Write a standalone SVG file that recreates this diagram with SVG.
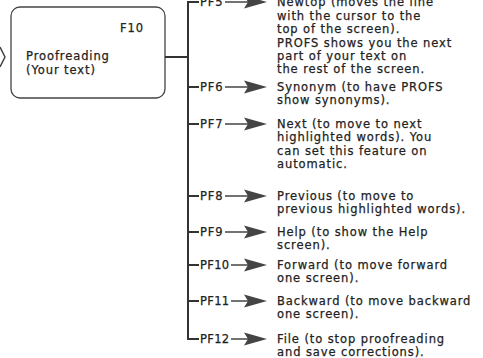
<svg xmlns="http://www.w3.org/2000/svg" width="483" height="358" viewBox="0 0 483 358">
<defs>
<style>
text{font-family:"DejaVu Sans","Liberation Sans",sans-serif;font-size:11.5px;letter-spacing:0.9px;fill:#222;stroke:#222;stroke-width:0.25px;}
.pf{letter-spacing:0.3px;}
.ln{stroke:#333;stroke-width:2;fill:none;}
.thin{stroke:#444;stroke-width:1.5;fill:none;}
.ah{fill:#444;}
</style>
<polygon id="head" class="ah" points="244,-6.5 267,0 244,6.5 248,0"/>
</defs>
<rect width="483" height="358" fill="#fff"/>
<g id="chevron"><polyline class="thin" points="0,47 5,57 0,67"/></g>
<g id="proofreading">
<rect x="11" y="7" width="154" height="91" rx="9" fill="#fff" stroke="#444" stroke-width="1.3"/>
<text x="120" y="32">F10</text>
<text x="26" y="60">Proofreading</text>
<text x="26" y="73.5">(Your text)</text>
</g>
<g id="connectors">
<line class="ln" x1="165" y1="57" x2="188" y2="57"/>
<polyline class="ln" points="199,2 188,2 188,339 199,339"/>
<line class="ln" x1="188" y1="87" x2="199" y2="87"/>
<line class="ln" x1="188" y1="124" x2="199" y2="124"/>
<line class="ln" x1="188" y1="196" x2="199" y2="196"/>
<line class="ln" x1="188" y1="232" x2="199" y2="232"/>
<line class="ln" x1="188" y1="265" x2="199" y2="265"/>
<line class="ln" x1="188" y1="301" x2="199" y2="301"/>
<line class="thin" x1="225" y1="2" x2="250" y2="2"/>
<line class="thin" x1="225" y1="87" x2="250" y2="87"/>
<line class="thin" x1="225" y1="124" x2="250" y2="124"/>
<line class="thin" x1="225" y1="196" x2="250" y2="196"/>
<line class="thin" x1="225" y1="232" x2="250" y2="232"/>
<line class="thin" x1="231" y1="265" x2="250" y2="265"/>
<line class="thin" x1="231" y1="301" x2="250" y2="301"/>
<line class="thin" x1="231" y1="339" x2="250" y2="339"/>
<use href="#head" y="2"/>
<use href="#head" y="87"/>
<use href="#head" y="124"/>
<use href="#head" y="196"/>
<use href="#head" y="232"/>
<use href="#head" y="265"/>
<use href="#head" y="301"/>
<use href="#head" y="339"/>
</g>
<g id="pf5"><text x="200" y="6">PF5</text>
<text x="277" y="6">Newtop (moves the line</text>
<text x="277" y="20">with the cursor to the</text>
<text x="277" y="33">top of the screen).</text>
<text x="277" y="47">PROFS shows you the next</text>
<text x="277" y="60">part of your text on</text>
<text x="277" y="73">the rest of the screen.</text></g>
<g id="pf6"><text x="200" y="91">PF6</text>
<text x="277" y="91">Synonym (to have PROFS</text>
<text x="277" y="104">show synonyms).</text></g>
<g id="pf7"><text x="200" y="128">PF7</text>
<text x="277" y="128">Next (to move to next</text>
<text x="277" y="141">highlighted words). You</text>
<text x="277" y="155">can set this feature on</text>
<text x="277" y="168">automatic.</text></g>
<g id="pf8"><text x="200" y="200">PF8</text>
<text x="277" y="200">Previous (to move to</text>
<text x="277" y="213">previous highlighted words).</text></g>
<g id="pf9"><text x="200" y="236">PF9</text>
<text x="277" y="236">Help (to show the Help</text>
<text x="277" y="249">screen).</text></g>
<g id="pf10"><text class="pf" x="200" y="269">PF10</text>
<text x="277" y="269">Forward (to move forward</text>
<text x="277" y="282">one screen).</text></g>
<g id="pf11"><text class="pf" x="200" y="305">PF11</text>
<text x="277" y="305">Backward (to move backward</text>
<text x="277" y="318">one screen).</text></g>
<g id="pf12"><text class="pf" x="200" y="343">PF12</text>
<text x="277" y="343">File (to stop proofreading</text>
<text x="277" y="356">and save corrections).</text></g>
</svg>
